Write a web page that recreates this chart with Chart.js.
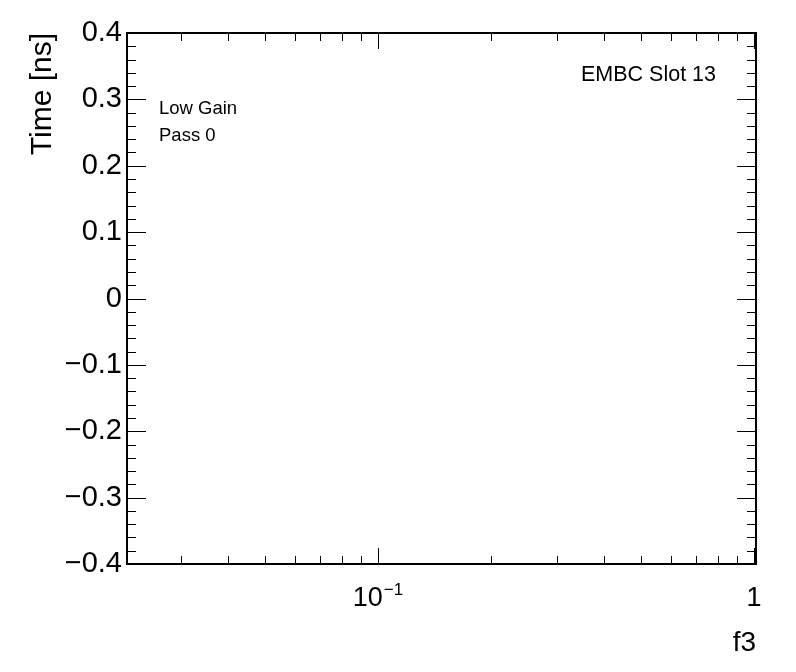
<!DOCTYPE html>
<html>
<head>
<meta charset="utf-8">
<title>EMBC Slot 13 - Time vs f3</title>
<script src="https://cdn.jsdelivr.net/npm/chart.js@4.4.1/dist/chart.umd.min.js"></script>
<style>
    html, body { margin: 0; padding: 0; background: #fff; }
    canvas { display: block; }
</style>
</head>
<body>
<canvas id="timeChart" width="796" height="672"></canvas>
<script>
/*== Chart data (the reference frame is empty: no points were filled) ==*/
const f3Values = [];
const timeValues = [];

/*== Axis ranges and tick labels ==*/
const xLimits = [0.0215, 1.012];
const yLimits = [-0.4, 0.4];
const yMajorStep = 0.1;
const yMinorStep = 0.02;
const xMajorTicks = [0.1, 1];
const xTickBase = ['10', '1'];
const xTickExponent = ['\u22121', ''];
const xMinorTicks = [0.03, 0.04, 0.05, 0.06, 0.07, 0.08, 0.09, 0.2, 0.3, 0.4, 0.5, 0.6, 0.7, 0.8, 0.9];

/*== Texts ==*/
const xTitle = 'f3';
const yTitle = 'Time [ns]';
const infoLines = ['Low Gain', 'Pass 0'];
const slotLabel = 'EMBC Slot 13';

const FONT = "'Liberation Sans', Arial, Helvetica, sans-serif";

/*== This function formats the y tick labels like ROOT does ==*/
function formatY(value) {
    if (Math.abs(value) < 1e-9) {
        return '0';
    }
    const text = Math.abs(value).toFixed(1);
    return value < 0 ? '\u2212' + text : text;
}

/*== Frame, ticks and texts drawn on top of the chart ==*/
const rootFrame = {
    id: 'rootFrame',
    beforeDraw(chart) {
        const ctx = chart.ctx;
        ctx.save();
        ctx.fillStyle = '#fff';
        ctx.fillRect(0, 0, chart.width, chart.height);
        ctx.restore();
    },
    afterDraw(chart) {
        const ctx = chart.ctx;
        const a = chart.chartArea;
        const x = chart.scales.x;
        const y = chart.scales.y;

        ctx.save();
        ctx.strokeStyle = '#000';
        ctx.fillStyle = '#000';

        // ticks
        ctx.lineWidth = 1;
        ctx.beginPath();
        const xTick = (value, len) => {
            const px = Math.round(x.getPixelForValue(value)) + 0.5;
            ctx.moveTo(px, a.bottom);
            ctx.lineTo(px, a.bottom - len);
            ctx.moveTo(px, a.top);
            ctx.lineTo(px, a.top + len);
        };
        xMinorTicks.forEach(v => xTick(v, 8));
        xMajorTicks.forEach(v => xTick(v, 16));

        const count = Math.round((yLimits[1] - yLimits[0]) / yMinorStep);
        const every = Math.round(yMajorStep / yMinorStep);
        for (let i = 0; i <= count; i++) {
            const v = yLimits[0] + i * yMinorStep;
            const len = i % every === 0 ? 19 : 9;
            const py = Math.round(y.getPixelForValue(v)) + 0.5;
            ctx.moveTo(a.left, py);
            ctx.lineTo(a.left + len, py);
            ctx.moveTo(a.right, py);
            ctx.lineTo(a.right - len, py);
        }
        ctx.stroke();

        // frame
        ctx.lineWidth = 2;
        ctx.strokeRect(a.left, a.top, a.right - a.left, a.bottom - a.top);

        // x tick labels (10 with exponent)
        ctx.textBaseline = 'alphabetic';
        ctx.textAlign = 'left';
        xMajorTicks.forEach((v, i) => {
            const px = x.getPixelForValue(v);
            ctx.font = '27px ' + FONT;
            const wb = ctx.measureText(xTickBase[i]).width;
            ctx.font = '17px ' + FONT;
            const we = xTickExponent[i] ? ctx.measureText(xTickExponent[i]).width + 1 : 0;
            const start = px - (wb + we) / 2;
            ctx.font = '27px ' + FONT;
            ctx.fillText(xTickBase[i], start, 606);
            if (xTickExponent[i]) {
                ctx.font = '17px ' + FONT;
                ctx.fillText(xTickExponent[i], start + wb + 1, 595);
            }
        });

        // axis titles
        ctx.font = '28px ' + FONT;
        ctx.textAlign = 'right';
        ctx.fillText(xTitle, a.right, 651);

        ctx.save();
        ctx.font = '30px ' + FONT;
        ctx.translate(51, a.top);
        ctx.rotate(-Math.PI / 2);
        ctx.textAlign = 'right';
        ctx.fillText(yTitle, 0, 0);
        ctx.restore();

        // labels inside the frame
        ctx.font = '18.5px ' + FONT;
        ctx.textAlign = 'left';
        infoLines.forEach((line, i) => {
            ctx.fillText(line, 159, 114 + i * 27);
        });
        ctx.font = '21.5px ' + FONT;
        ctx.textAlign = 'right';
        ctx.fillText(slotLabel, 716, 81);

        ctx.restore();
    }
};

const ctx = document.getElementById('timeChart').getContext('2d');

const timeChart = new Chart(ctx, {
    type: 'scatter',
    data: {
        datasets: [{
            data: f3Values.map((f, i) => ({ x: f, y: timeValues[i] })),
            backgroundColor: '#000',
            borderColor: '#000',
            pointRadius: 2
        }]
    },
    options: {
        responsive: false,
        animation: false,
        devicePixelRatio: 1,
        layout: {
            padding: { left: 0, right: 40, top: 33, bottom: 0 }
        },
        scales: {
            x: {
                type: 'logarithmic',
                min: xLimits[0],
                max: xLimits[1],
                grid: { display: false, drawTicks: false },
                border: { display: false },
                ticks: { display: false },
                afterFit: scale => { scale.height = 108; }
            },
            y: {
                type: 'linear',
                min: yLimits[0],
                max: yLimits[1],
                grid: { display: false, drawTicks: false },
                border: { display: false },
                ticks: {
                    stepSize: yMajorStep,
                    padding: 5,
                    color: '#000',
                    font: { family: FONT, size: 29 },
                    callback: value => formatY(value)
                },
                afterFit: scale => { scale.width = 127; }
            }
        },
        plugins: {
            legend: { display: false },
            tooltip: { enabled: false }
        }
    },
    plugins: [rootFrame]
});
</script>
</body>
</html>
